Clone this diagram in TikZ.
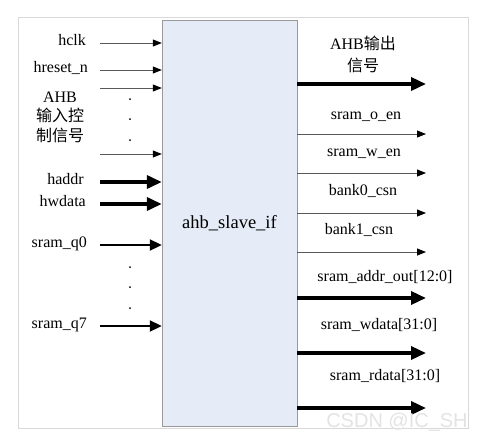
\documentclass[tikz,border=0pt]{standalone}
\usepackage{fontspec}
\setmainfont{Liberation Serif}
\newfontfamily\cjk{Noto Sans CJK SC}
\newfontfamily\wmfont{Liberation Sans}
\usetikzlibrary{arrows.meta,positioning}
\definecolor{boxfill}{HTML}{E6ECF7}

\begin{document}
\begin{tikzpicture}[x=1pt, y=-1pt,
  sig/.style={font=\fontsize{16}{19.5}\selectfont, inner sep=0pt, anchor=mid, align=center},
  insig/.style={sig, anchor=mid east},
  multi/.style={sig, anchor=center},
  wire/.style={draw=gray!70!black, line width=0.8pt, -{Triangle[length=9pt,width=7pt,color=black]}},
  midbus/.style={line width=2pt, -{Triangle[length=12pt,width=11pt]}},
  bus/.style={line width=3.5pt, -{Triangle[length=15pt,width=13pt]}},
]
\useasboundingbox (0,0) rectangle (485,445);
\draw[gray!30, line width=0.8pt] (18,17) rectangle (468,428);

% Module
\node[draw=gray!80, fill=boxfill, minimum width=135pt, minimum height=406pt, inner sep=0pt,
  font=\fontsize{18.5}{22}\selectfont] (slave) at (229.5,223) {ahb\_slave\_if};

% Inputs
\coordinate (hclk) at (100,43);
\coordinate (hrst) at (100,70);
\coordinate (ctl1) at (100,88);
\coordinate (ctln) at (100,154);
\coordinate (addr) at (100,182);
\coordinate (wdat) at (100,204);
\coordinate (q0) at (100,245);
\coordinate (q7) at (100,326);

\node[insig] (lhclk) at (86,43) {hclk};
\node[insig] (lhrst) at (88,70) {hreset\_n};
\node[multi] (lctl) at (60,117) {AHB\\{\cjk 输入控}\\{\cjk 制信号}};
\node[insig] (laddr) at (84,182) {haddr};
\node[insig] (lwdat) at (86,204) {hwdata};
\node[insig] (lq0) at (87,245) {sram\_q0};
\node[insig] (lq7) at (87,326) {sram\_q7};

\draw[wire] (hclk) -- (hclk -| slave.west);
\draw[wire] (hrst) -- (hrst -| slave.west);
\draw[wire] (ctl1) -- (ctl1 -| slave.west);
\draw[wire] (ctln) -- (ctln -| slave.west);
\draw[bus] (addr) -- (addr -| slave.west);
\draw[bus] (wdat) -- (wdat -| slave.west);
\draw[midbus] (q0) -- (q0 -| slave.west);
\draw[midbus] (q7) -- (q7 -| slave.west);

\foreach \yy in {99,119,140,267,287,308}
  \fill (130,\yy) circle (1pt);

% Outputs
\coordinate (ahbo) at (426,84);
\coordinate (oen) at (426,134);
\coordinate (wen) at (426,173);
\coordinate (cs0) at (426,213);
\coordinate (cs1) at (426,252);
\coordinate (aout) at (426,298);
\coordinate (wout) at (426,353);
\coordinate (rout) at (426,408);

\node[multi, font=\fontsize{16}{22}\selectfont] (lahbo) at (363,54) {AHB{\cjk 输出}\\{\cjk 信号}};
\node[sig] (loen) at (366,117) {sram\_o\_en};
\node[sig] (lwen) at (364,154) {sram\_w\_en};
\node[sig] (lcs0) at (363,193) {bank0\_csn};
\node[sig] (lcs1) at (359,232) {bank1\_csn};
\node[sig] (laout) at (385,279) {sram\_addr\_out[12:0]};
\node[sig] (lwout) at (379,327) {sram\_wdata[31:0]};
\node[sig] (lrout) at (385,378) {sram\_rdata[31:0]};

\draw[bus] (ahbo -| slave.east) -- (ahbo);
\draw[wire] (oen -| slave.east) -- (oen);
\draw[wire] (wen -| slave.east) -- (wen);
\draw[wire] (cs0 -| slave.east) -- (cs0);
\draw[wire] (cs1 -| slave.east) -- (cs1);
\draw[bus] (aout -| slave.east) -- (aout);
\draw[bus] (wout -| slave.east) -- (wout);
\draw[bus] (rout -| slave.east) -- (rout);

\node[text=gray!22, font=\wmfont\fontsize{20}{24}\selectfont] (wm) at (397,422) {CSDN @IC\_SH};
\end{tikzpicture}
\end{document}
